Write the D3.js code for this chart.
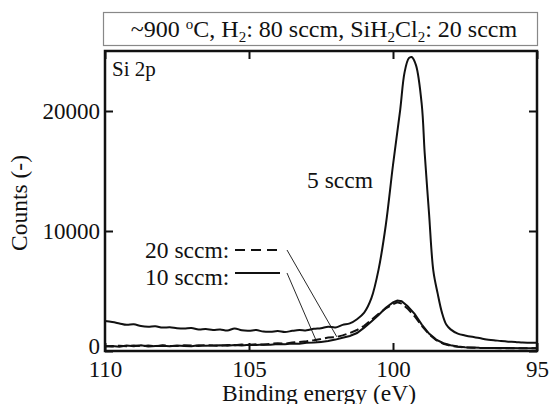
<!DOCTYPE html>
<html>
<head>
<meta charset="utf-8">
<script src="https://cdn.jsdelivr.net/npm/d3@7"></script>
<style>
  body { margin: 0; background: #fff; }
  svg text { font-family: "Liberation Serif", "Times New Roman", serif; fill: #111; }
</style>
</head>
<body>
<script>
// Binding energy grid (eV) and counts
var energy5 = [110.0, 109.75, 109.5, 109.25, 109.0, 108.75, 108.5, 108.25, 108.0, 107.75,
  107.5, 107.25, 107.0, 106.75, 106.5, 106.25, 106.0, 105.75, 105.5, 105.25,
  105.0, 104.75, 104.5, 104.25, 104.0, 103.75, 103.5, 103.25, 103.0, 102.75,
  102.5, 102.25, 102.0, 101.75, 101.5, 101.25, 101.0, 100.75, 100.5, 100.25,
  100.0, 99.75, 99.6, 99.45, 99.35, 99.2, 99.0, 98.9, 98.75, 98.6,
  98.45, 98.3, 98.15, 98.0, 97.75, 97.5, 97.25, 97.0, 96.75, 96.5,
  96.25, 96.0, 95.75, 95.5, 95.25, 95.0];
var counts5 = [2500, 2420, 2300, 2180, 2220, 2080, 2030, 2060, 1950, 1980,
  1900, 1870, 1920, 1800, 1830, 1760, 1790, 1700, 1880, 1720,
  1690, 1740, 1620, 1600, 1660, 1580, 1680, 1750, 1720, 1850,
  1900, 2030, 1960, 2180, 2300, 2650, 3200, 4400, 6800, 10500,
  15500, 20100, 23200, 24400, 24500, 23800, 20500, 16500, 11500, 6700,
  4800, 3200, 2200, 1800, 1450, 1300, 1180, 1080, 950, 900,
  830, 780, 760, 700, 690, 680];

var energyLow = [110.0, 109.75, 109.5, 109.25, 109.0, 108.75, 108.5, 108.25, 108.0, 107.75,
  107.5, 107.25, 107.0, 106.75, 106.5, 106.25, 106.0, 105.75, 105.5, 105.25,
  105.0, 104.75, 104.5, 104.25, 104.0, 103.75, 103.5, 103.25, 103.0, 102.75,
  102.5, 102.25, 102.0, 101.75, 101.5, 101.25, 101.0, 100.75, 100.5, 100.25,
  100.0, 99.85, 99.7, 99.5, 99.25, 99.0, 98.75, 98.5, 98.25, 98.0,
  97.75, 97.5, 97.25, 97.0, 96.75, 96.5, 96.0, 95.5, 95.0];
var counts10 = [380, 420, 360, 450, 400, 470, 380, 420, 440, 390,
  460, 420, 400, 470, 430, 450, 480, 430, 500, 460,
  520, 490, 540, 520, 580, 560, 620, 600, 680, 700,
  760, 830, 950, 1100, 1250, 1500, 1950, 2450, 3000, 3600,
  4050, 4200, 4150, 3750, 3100, 2200, 1450, 950, 650, 480,
  380, 320, 300, 270, 260, 250, 240, 230, 230];
var counts20 = [420, 380, 440, 400, 460, 410, 450, 390, 470, 430,
  410, 480, 450, 420, 500, 460, 440, 510, 470, 540,
  500, 560, 530, 600, 640, 620, 700, 760, 820, 900,
  1000, 1120, 1150, 1300, 1500, 1750, 2100, 2600, 3100, 3550,
  3900, 4050, 3950, 3550, 2900, 2100, 1400, 900, 600, 430,
  350, 300, 280, 260, 250, 240, 230, 220, 220];

var xTicks = [110, 105, 100, 95];
var yTicks = [0, 10000, 20000];

var w = 549, h = 404;
var mL = 105, mR = 537, mT = 51, mB = 351;

var svg = d3.select("body").append("svg")
  .attr("width", w)
  .attr("height", h);

var x = d3.scaleLinear().domain([110, 95]).range([mL, mR]);
var y = d3.scaleLinear().domain([0, 25000]).range([mB, mT]);

// title box
svg.append("rect")
  .attr("x", 103.5).attr("y", 12.5)
  .attr("width", 434).attr("height", 33)
  .attr("fill", "none").attr("stroke", "#888").attr("stroke-width", 1.2);

var title = svg.append("text")
  .attr("x", 324).attr("y", 37)
  .attr("text-anchor", "middle")
  .attr("font-size", "24px");
title.append("tspan").text("~900 ");
title.append("tspan").attr("dy", -8).attr("font-size", "15px").text("o");
title.append("tspan").attr("dy", 8).text("C, H");
title.append("tspan").attr("dy", 5).attr("font-size", "15px").text("2");
title.append("tspan").attr("dy", -5).text(": 80 sccm, SiH");
title.append("tspan").attr("dy", 5).attr("font-size", "15px").text("2");
title.append("tspan").attr("dy", -5).text("Cl");
title.append("tspan").attr("dy", 5).attr("font-size", "15px").text("2");
title.append("tspan").attr("dy", -5).text(": 20 sccm");

// axes, ticks pointing inward
var axisFont = "23px";
var gx = svg.append("g")
  .attr("transform", "translate(0," + mB + ")")
  .call(d3.axisBottom(x).tickValues(xTicks).tickSizeInner(-8).tickSizeOuter(0).tickPadding(12));
var gxTop = svg.append("g")
  .attr("transform", "translate(0," + mT + ")")
  .call(d3.axisTop(x).tickValues(xTicks).tickSizeInner(-8).tickSizeOuter(0).tickFormat(""));
var gy = svg.append("g")
  .attr("transform", "translate(" + mL + ",0)")
  .call(d3.axisLeft(y).tickValues(yTicks).tickFormat(d3.format("d"))
    .tickSizeInner(-8).tickSizeOuter(0).tickPadding(5));
var gyRight = svg.append("g")
  .attr("transform", "translate(" + mR + ",0)")
  .call(d3.axisRight(y).tickValues(yTicks).tickSizeInner(-8).tickSizeOuter(0).tickFormat(""));

[gx, gxTop, gy, gyRight].forEach(function(g) {
  g.select(".domain").remove();
  g.selectAll("line").attr("stroke", "#111").attr("stroke-width", 2);
  g.selectAll("text").attr("font-size", axisFont).attr("fill", "#111")
    .attr("font-family", "'Liberation Serif', 'Times New Roman', serif");
});
gx.selectAll("text").attr("dy", "0.62em");
gy.selectAll("text").attr("dy", "0.32em");
// the zero label sits a little higher so it clears the "110" below it
gy.selectAll("text").filter(function(d) { return d === 0; }).attr("dy", "0.1em");

// plot frame
svg.append("rect")
  .attr("x", mL).attr("y", mT)
  .attr("width", mR - mL).attr("height", mB - mT)
  .attr("fill", "none").attr("stroke", "#111").attr("stroke-width", 2.5);

// spectra
var line = d3.line()
  .x(function(d) { return x(d[0]); })
  .y(function(d) { return y(d[1]); });

function pairs(e, c) {
  return e.map(function(v, i) { return [v, c[i]]; });
}

svg.append("path")
  .datum(pairs(energy5, counts5))
  .attr("d", line.curve(d3.curveCatmullRom))
  .attr("fill", "none").attr("stroke", "#111").attr("stroke-width", 2);

svg.append("path")
  .datum(pairs(energyLow, counts10))
  .attr("d", line.curve(d3.curveLinear))
  .attr("fill", "none").attr("stroke", "#111").attr("stroke-width", 2);

svg.append("path")
  .datum(pairs(energyLow, counts20))
  .attr("d", line.curve(d3.curveLinear))
  .attr("fill", "none").attr("stroke", "#111").attr("stroke-width", 2)
  .attr("stroke-dasharray", "9,4");

// labels
svg.append("text").attr("x", 112).attr("y", 76).attr("font-size", "21px").text("Si 2p");
svg.append("text").attr("x", 307).attr("y", 188).attr("font-size", "23.5px").text("5 sccm");

svg.append("text").attr("x", 145).attr("y", 258).attr("font-size", "23.5px").text("20 sccm:");
svg.append("text").attr("x", 145).attr("y", 285).attr("font-size", "23.5px").text("10 sccm:");
svg.append("line").attr("x1", 235).attr("x2", 280).attr("y1", 250).attr("y2", 250)
  .attr("stroke", "#111").attr("stroke-width", 2).attr("stroke-dasharray", "10,6");
svg.append("line").attr("x1", 235).attr("x2", 280).attr("y1", 273).attr("y2", 273)
  .attr("stroke", "#111").attr("stroke-width", 2.2);

// leader lines to the curves
svg.append("line").attr("x1", 287).attr("y1", 250).attr("x2", x(101.95)).attr("y2", y(1180))
  .attr("stroke", "#111").attr("stroke-width", 0.9);
svg.append("line").attr("x1", 287).attr("y1", 273).attr("x2", x(102.65)).attr("y2", y(770))
  .attr("stroke", "#111").attr("stroke-width", 0.9);

// axis titles
svg.append("text")
  .attr("transform", "translate(27,203) rotate(-90)")
  .attr("text-anchor", "middle").attr("font-size", "23.5px")
  .text("Counts (-)");
svg.append("text")
  .attr("x", 319).attr("y", 401)
  .attr("text-anchor", "middle").attr("font-size", "23.5px")
  .text("Binding energy (eV)");
</script>
</body>
</html>
